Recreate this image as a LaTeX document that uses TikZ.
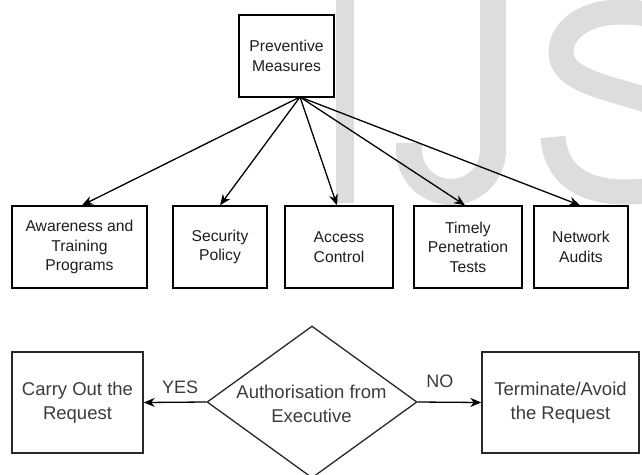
\documentclass[tikz,border=0pt]{standalone}
\usepackage{fontspec}
\setmainfont{Liberation Sans}
\usetikzlibrary{shapes.geometric,arrows.meta,calc}
\definecolor{wmark}{RGB}{221,221,221}
\definecolor{txtdark}{RGB}{30,30,30}
\definecolor{txtgrey}{RGB}{60,60,60}
\definecolor{linegrey}{RGB}{40,40,40}
\tikzset{
  topbox/.style={draw=black, line width=1.4pt, fill=white, minimum height=82pt,
    align=center, inner sep=0pt, text=txtdark, font=\fontsize{15.7}{19.5}\selectfont},
  botbox/.style={draw=linegrey, line width=1.4pt, fill=white, minimum height=101pt,
    align=center, inner sep=0pt, text=txtgrey, font=\fontsize{18.5}{23.5}\selectfont},
  arr/.style={draw=black, line width=1.3pt, -{Stealth[length=11pt,width=9pt,inset=3.5pt]}},
  lbl/.style={text=txtgrey, font=\fontsize{18}{22}\selectfont, inner sep=0pt},
  wm/.style={draw=wmark, line width=26pt}
}
\begin{document}
\begin{tikzpicture}[x=1pt,y=-1pt]
\useasboundingbox (0,0) rectangle (642,474);
\clip (0,0) rectangle (642,474);
\fill[white] (0,0) rectangle (642,474);
% watermark
\fill[wmark] (335.5,-5) rectangle (353.5,203);
\draw[wm, line cap=butt] (493,-10) -- (493,150) arc[start angle=0, end angle=180, radius=42] -- (409,143);
\draw[wm, line width=25pt] (690,36) .. controls (672,16) and (645,12) .. (620,12)
  .. controls (585,12) and (561,30) .. (561,52)
  .. controls (561,76) and (592,84) .. (630,95)
  .. controls (680,110) and (705,124) .. (705,150)
  .. controls (705,180) and (670,192) .. (625,192)
  .. controls (585,192) and (556,176) .. (553,137);
% top part
\node[topbox, minimum width=95pt] (pm) at (286.5,56) {Preventive\\Measures};
\node[topbox, minimum width=135pt] (b1) at (79.5,247) {Awareness and\\Training\\Programs};
\node[topbox, minimum width=94pt] (b2) at (220,247) {Security\\Policy};
\node[topbox, minimum width=108pt] (b3) at (339,247) {Access\\Control};
\node[topbox, minimum width=108pt] (b4) at (468,247) {Timely\\Penetration\\Tests};
\node[topbox, minimum width=94pt] (b5) at (581,247) {Network\\Audits};
\coordinate (o) at (300,97);
\draw[arr] (o) -- ($(b1.north)+(2.5,0)$);
\draw[arr] (o) -- (b2.north);
\draw[arr] (o) -- ($(b3.north)+(-2,0)$);
\draw[arr] (o) -- ($(b4.north)+(-3,0)$);
\draw[arr] (o) -- ($(b5.north)+(-1,0)$);
% bottom part
\node[botbox, minimum width=131pt] (carry) at (77.5,402.5) {Carry Out the\\Request};
\node[botbox, minimum width=157pt] (term) at (560.5,402.5) {Terminate/Avoid\\the Request};
\node[draw=linegrey, line width=1.3pt, diamond, minimum width=210pt, minimum height=152pt, inner sep=0pt] (auth) at (312,402) {};
\node[align=center, text=txtgrey, font=\fontsize{18.5}{23.5}\selectfont, inner sep=0pt] (authtxt) at (311.5,404) {Authorisation from\\Executive};
\draw[arr] (auth.west) -- node[lbl, pos=0.42, yshift=15pt] (yes) {YES} (carry.east);
\draw[arr] (auth.east) -- node[lbl, pos=0.35, yshift=20.5pt] (no) {NO} (term.west);
\end{tikzpicture}
\end{document}
